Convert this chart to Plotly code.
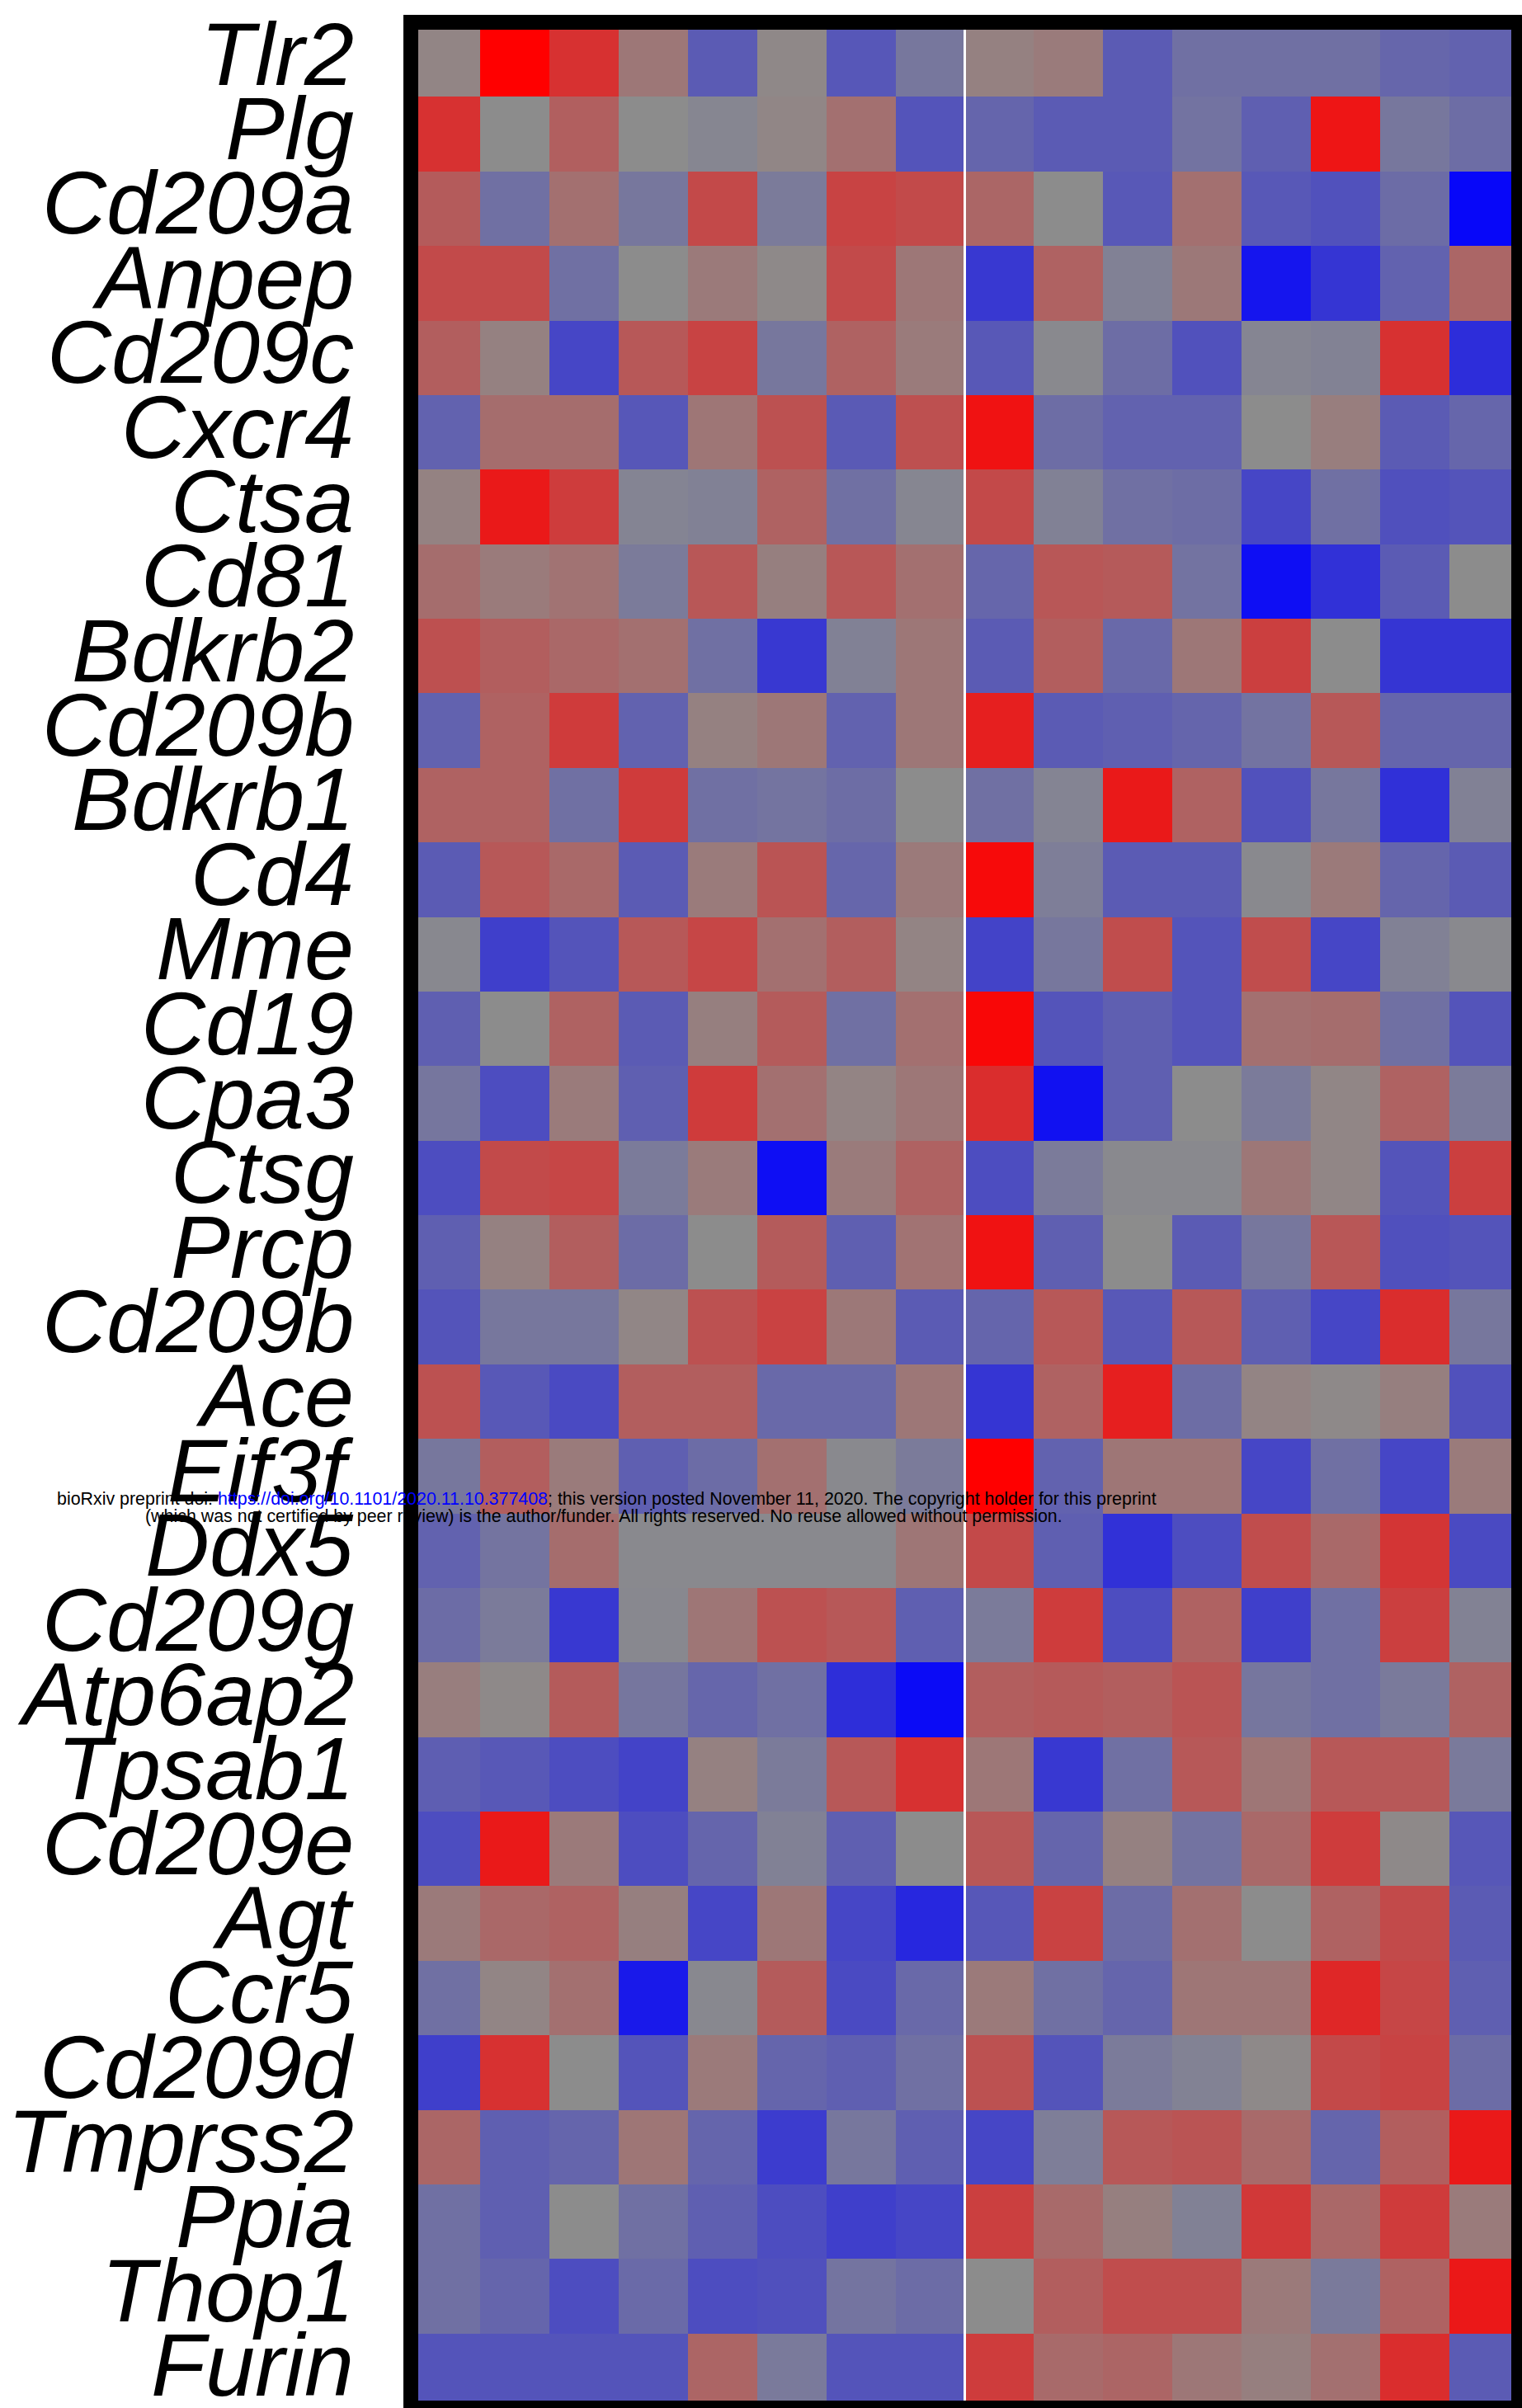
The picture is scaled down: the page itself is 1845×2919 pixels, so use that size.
import plotly.graph_objects as go

genes = ["Tlr2", "Plg", "Cd209a", "Anpep", "Cd209c", "Cxcr4", "Ctsa", "Cd81",
         "Bdkrb2", "Cd209b", "Bdkrb1", "Cd4", "Mme", "Cd19", "Cpa3", "Ctsg",
         "Prcp", "Cd209b", "Ace", "Eif3f", "Ddx5", "Cd209g", "Atp6ap2", "Tpsab1",
         "Cd209e", "Agt", "Ccr5", "Cd209d", "Tmprss2", "Ppia", "Thop1", "Furin"]

samples = list(range(16))

tlr2    = [0.05, 1.0, 0.65, 0.15, -0.35, 0.03, -0.38, -0.15, 0.08, 0.12, -0.35, -0.2, -0.2, -0.2, -0.27, -0.3]
plg     = [0.65, 0.0, 0.32, 0.0, -0.04, 0.04, 0.2, -0.4, -0.28, -0.35, -0.35, -0.18, -0.32, 0.85, -0.15, -0.22]
cd209a  = [0.35, -0.2, 0.2, -0.15, 0.48, -0.12, 0.52, 0.47, 0.27, 0.0, -0.37, 0.2, -0.37, -0.42, -0.23, -0.95]
anpep   = [0.47, 0.47, -0.2, 0.0, 0.13, 0.02, 0.47, 0.15, -0.6, 0.3, -0.08, 0.14, -0.85, -0.62, -0.3, 0.27]
cd209c  = [0.33, 0.08, -0.5, 0.37, 0.52, -0.15, 0.3, 0.12, -0.37, -0.02, -0.22, -0.42, -0.05, -0.07, 0.65, -0.68]
cxcr4   = [-0.3, 0.22, 0.22, -0.38, 0.16, 0.42, -0.36, 0.43, 0.87, -0.22, -0.3, -0.3, 0.0, 0.1, -0.35, -0.27]
ctsa    = [0.07, 0.82, 0.57, -0.06, -0.08, 0.3, -0.2, -0.04, 0.48, -0.08, -0.2, -0.22, -0.5, -0.2, -0.43, -0.4]
cd81    = [0.22, 0.12, 0.18, -0.12, 0.38, 0.09, 0.38, 0.2, -0.27, 0.38, 0.36, -0.18, -0.9, -0.65, -0.35, 0.0]
bdkrb2  = [0.43, 0.33, 0.26, 0.2, -0.2, -0.6, -0.08, 0.15, -0.35, 0.33, -0.25, 0.15, 0.55, 0.0, -0.62, -0.62]
cd209b1 = [-0.3, 0.3, 0.58, -0.3, 0.08, 0.15, -0.3, 0.15, 0.78, -0.35, -0.32, -0.28, -0.18, 0.37, -0.28, -0.28]
bdkrb1  = [0.3, 0.3, -0.2, 0.58, -0.2, -0.17, -0.22, 0.0, -0.2, -0.06, 0.82, 0.3, -0.42, -0.15, -0.66, -0.08]
cd4     = [-0.35, 0.37, 0.25, -0.35, 0.12, 0.4, -0.27, 0.13, 0.93, -0.1, -0.35, -0.35, -0.02, 0.13, -0.28, -0.35]
mme     = [-0.03, -0.55, -0.4, 0.37, 0.5, 0.2, 0.33, 0.06, -0.52, -0.15, 0.45, -0.4, 0.45, -0.5, -0.08, -0.02]
cd19    = [-0.32, 0.0, 0.3, -0.35, 0.09, 0.35, -0.2, 0.2, 0.95, -0.4, -0.32, -0.4, 0.2, 0.22, -0.2, -0.4]
cpa3    = [-0.16, -0.45, 0.12, -0.32, 0.58, 0.2, 0.06, 0.15, 0.68, -0.88, -0.32, 0.0, -0.12, 0.04, 0.3, -0.12]
ctsg    = [-0.45, 0.47, 0.5, -0.12, 0.12, -0.9, 0.12, 0.3, -0.45, -0.12, -0.02, -0.02, 0.15, 0.04, -0.4, 0.55]
prcp    = [-0.32, 0.08, 0.33, -0.23, 0.0, 0.35, -0.32, 0.18, 0.87, -0.32, 0.0, -0.35, -0.15, 0.38, -0.43, -0.4]
cd209b2 = [-0.4, -0.15, -0.15, 0.04, 0.42, 0.53, 0.14, -0.35, -0.28, 0.37, -0.37, 0.37, -0.32, -0.5, 0.68, -0.15]
ace     = [0.42, -0.37, -0.47, 0.33, 0.33, -0.25, -0.25, 0.15, -0.62, 0.3, 0.78, -0.22, 0.06, 0.02, 0.09, -0.42]
eif3f   = [-0.15, 0.33, 0.12, -0.32, -0.23, 0.2, -0.02, -0.12, 1.0, -0.3, 0.16, 0.16, -0.5, -0.2, -0.5, 0.12]
ddx5    = [-0.3, -0.17, 0.22, -0.02, -0.02, -0.02, -0.02, 0.16, 0.48, -0.32, -0.65, -0.45, 0.45, 0.25, 0.62, -0.47]
cd209g  = [-0.23, -0.12, -0.6, -0.03, 0.16, 0.42, 0.37, -0.32, -0.12, 0.57, -0.45, 0.3, -0.55, -0.2, 0.55, -0.07]
atp6ap2 = [0.1, 0.02, 0.35, -0.16, -0.27, -0.2, -0.67, -0.92, 0.33, 0.36, 0.33, 0.4, -0.16, -0.2, -0.13, 0.3]
tpsab1  = [-0.33, -0.37, -0.45, -0.52, 0.08, -0.12, 0.37, 0.65, 0.15, -0.6, -0.2, 0.37, 0.16, 0.37, 0.37, -0.13]
cd209e  = [-0.45, 0.82, 0.13, -0.45, -0.28, -0.08, -0.32, 0.0, 0.38, -0.28, 0.08, -0.18, 0.25, 0.57, 0.02, -0.38]
agt     = [0.13, 0.26, 0.3, 0.09, -0.5, 0.15, -0.5, -0.72, -0.38, 0.53, -0.23, 0.2, 0.0, 0.3, 0.47, -0.35]
ccr5    = [-0.2, 0.05, 0.2, -0.82, -0.03, 0.35, -0.47, -0.25, 0.13, -0.2, -0.28, 0.16, 0.16, 0.72, 0.5, -0.32]
cd209d  = [-0.55, 0.65, 0.0, -0.4, 0.13, -0.28, -0.32, -0.2, 0.42, -0.4, -0.12, -0.07, 0.02, 0.48, 0.52, -0.23]
tmprss2 = [0.27, -0.32, -0.28, 0.16, -0.28, -0.57, -0.15, -0.32, -0.5, -0.1, 0.37, 0.4, 0.24, -0.28, 0.33, 0.82]
ppia    = [-0.2, -0.32, 0.0, -0.2, -0.32, -0.45, -0.55, -0.5, 0.55, 0.24, 0.09, -0.08, 0.6, 0.26, 0.58, 0.12]
thop1   = [-0.2, -0.28, -0.45, -0.24, -0.45, -0.43, -0.17, -0.23, 0.0, 0.33, 0.45, 0.45, 0.13, -0.13, 0.3, 0.83]
furin   = [-0.4, -0.4, -0.4, -0.4, 0.28, -0.13, -0.4, -0.4, 0.57, 0.24, 0.28, 0.15, 0.09, 0.2, 0.68, -0.35]

z = [tlr2, plg, cd209a, anpep, cd209c, cxcr4, ctsa, cd81, bdkrb2, cd209b1, bdkrb1, cd4,
     mme, cd19, cpa3, ctsg, prcp, cd209b2, ace, eif3f, ddx5, cd209g, atp6ap2, tpsab1,
     cd209e, agt, ccr5, cd209d, tmprss2, ppia, thop1, furin]

rows = list(range(len(genes)))

W, H = 1845, 2919
ML, MR, MT, MB = 498, 4, 27, 0
PW, PH = W - ML - MR, H - MT - MB


def px_x(px):
    return (px - ML) / PW


def px_y(py):
    return 1 - (py - MT) / PH


fig = go.Figure(go.Heatmap(
    z=z, x=samples, y=rows,
    colorscale=[[0, "#0000ff"], [0.5, "#8c8c8c"], [1, "#ff0000"]],
    zmin=-1, zmax=1, showscale=False, hoverinfo="skip",
))

label_font = dict(family="Liberation Sans, Arial", size=108, color="black")
annotations = [
    dict(xref="paper", yref="y", x=px_x(431), y=r, xanchor="right", yanchor="middle",
         showarrow=False, text="<i>%s</i>" % g, font=label_font, yshift=7)
    for r, g in zip(rows, genes)
]

wm_font = dict(family="Liberation Sans, Arial", size=21.4, color="black")
annotations += [
    dict(xref="paper", yref="paper", x=px_x(735), y=px_y(1817), xanchor="center",
         yanchor="middle", showarrow=False, font=wm_font,
         text="bioRxiv preprint doi: <span style='color:#0000ff'>https://doi.org/10.1101/2020.11.10.377408</span>; this version posted November 11, 2020. The copyright holder for this preprint"),
    dict(xref="paper", yref="paper", x=px_x(732), y=px_y(1838), xanchor="center",
         yanchor="middle", showarrow=False, font=wm_font,
         text="(which was not certified by peer review) is the author/funder. All rights reserved. No reuse allowed without permission."),
]

fig.update_layout(
    width=W, height=H,
    margin=dict(l=ML, r=MR, t=MT, b=MB),
    paper_bgcolor="white", plot_bgcolor="white",
    showlegend=False,
    xaxis=dict(range=[-0.5, 15.5], showticklabels=False, showgrid=False,
               zeroline=False, ticks=""),
    yaxis=dict(range=[31.5, -0.5], showticklabels=False, showgrid=False,
               zeroline=False, ticks=""),
    shapes=[
        dict(type="line", xref="x", yref="paper", x0=7.5, x1=7.5, y0=0, y1=1,
             line=dict(color="white", width=3)),
        dict(type="rect", xref="paper", yref="paper", x0=0, x1=1, y0=0, y1=1,
             line=dict(color="black", width=18)),
    ],
    annotations=annotations,
)

fig.write_html("out.html", config={"displayModeBar": False},
               post_script="document.body.style.margin='0';document.body.style.padding='0';")
